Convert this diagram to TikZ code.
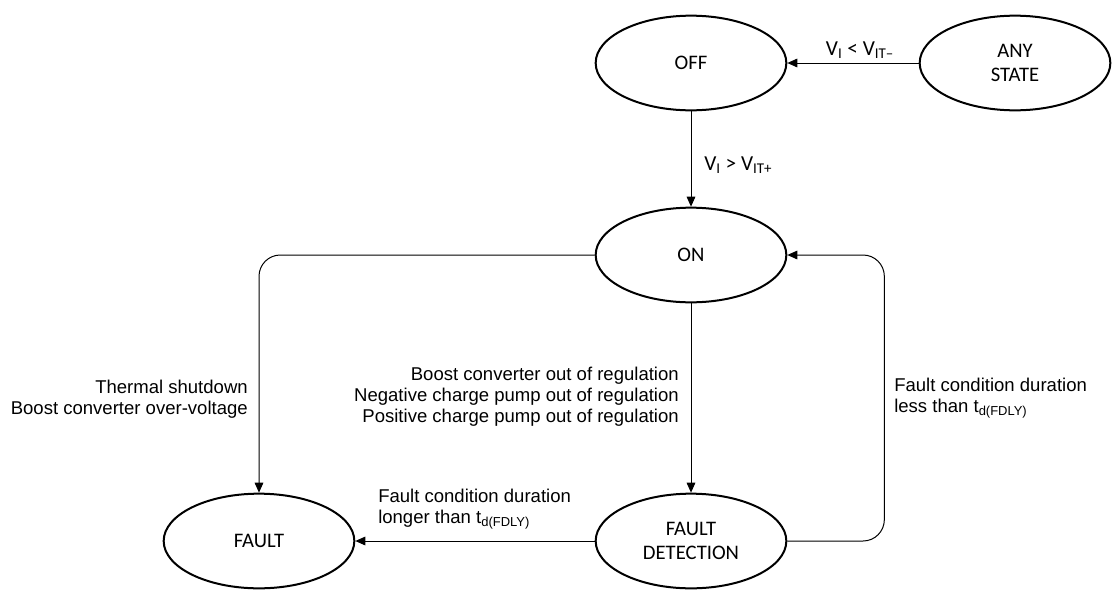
\documentclass[tikz,border=0pt]{standalone}
\usepackage{fontspec}
\setmainfont{Liberation Sans}
\newfontfamily\calibfont{Carlito}
\usetikzlibrary{shapes,arrows.meta,positioning,calc}

\begin{document}
\begin{tikzpicture}[
    x=0.75pt, y=-0.75pt,
    state/.style={ellipse, draw, line width=1.5pt, minimum width=143pt, minimum height=71pt, inner sep=0pt, align=center, font=\calibfont\fontsize{15.5}{17.5}\selectfont},
    arrow/.style={-{Triangle[length=7.5pt,width=6.5pt]}, line width=0.75pt},
    lbl/.style={font=\fontsize{13.9}{15.8}\selectfont, inner sep=0pt},
    vlbl/.style={font=\calibfont\fontsize{16}{18}\selectfont, inner sep=0pt},
]
    \useasboundingbox (0,0) rectangle (1112,589);

    % States
    \node[state] (off) at (691,63) {OFF};
    \node[state] (any) at (1015,63) {ANY\\STATE};
    \node[state] (on) at (691,255) {ON};
    \node[state] (fault) at (259,541) {FAULT};
    \node[state] (fdet) at (691,541) {FAULT\\DETECTION};

    % Arrows
    \draw[arrow] (any) -- (off);
    \draw[arrow] (off) -- (on);
    \draw[arrow, rounded corners=16pt] (on.west) -| (fault.north);
    \draw[arrow] (on) -- (fdet);
    \draw[arrow] (fdet) -- (fault);
    \draw[arrow, rounded corners=16pt] (fdet.east) -- ++(97,0) |- (on.east);

    % Labels
    \node[vlbl] (vlow) at (860,50) {V\textsubscript{I} < V\textsubscript{IT–}};
    \node[vlbl, anchor=west] (vhigh) at (704,165) {V\textsubscript{I} > V\textsubscript{IT+}};
    \node[lbl, anchor=east, align=right] (thermal) at (248,399) {Thermal shutdown\\Boost converter over-voltage};
    \node[lbl, anchor=east, align=right] (regul) at (679,397) {Boost converter out of regulation\\Negative charge pump out of regulation\\Positive charge pump out of regulation};
    \node[lbl, anchor=west, align=left] (longer) at (378,509) {Fault condition duration\\longer than t\textsubscript{d(FDLY)}};
    \node[lbl, anchor=west, align=left] (less) at (894,398) {Fault condition duration\\less than t\textsubscript{d(FDLY)}};
\end{tikzpicture}
\end{document}
